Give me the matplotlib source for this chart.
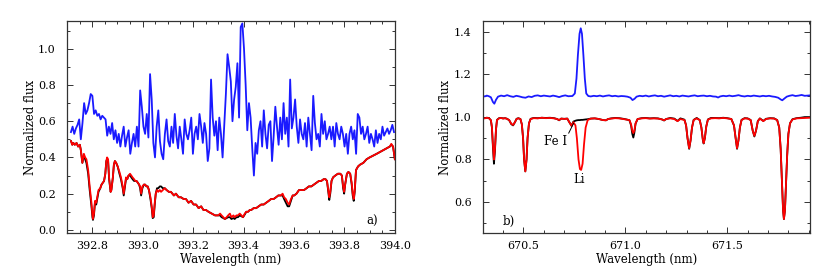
import numpy as np
import matplotlib
matplotlib.use("Agg")
import matplotlib.pyplot as plt
from matplotlib.ticker import MultipleLocator

# ---- panel a) : Ca II K region ----
# blue spectrum, regularly sampled
blue_a_start, blue_a_end = 392.7157, 393.9967
blue_a_flux = [
    0.54, 0.57, 0.53, 0.56, 0.58, 0.61, 0.50, 0.59, 0.70, 0.64,
    0.66, 0.70, 0.75, 0.74, 0.64, 0.66, 0.63, 0.64, 0.61, 0.63,
    0.62, 0.61, 0.52, 0.57, 0.53, 0.59, 0.50, 0.55, 0.48, 0.53,
    0.46, 0.52, 0.57, 0.46, 0.51, 0.55, 0.42, 0.48, 0.53, 0.46,
    0.57, 0.46, 0.77, 0.68, 0.57, 0.53, 0.64, 0.51, 0.86, 0.72,
    0.48, 0.40, 0.57, 0.66, 0.49, 0.42, 0.39, 0.53, 0.61, 0.49,
    0.46, 0.57, 0.48, 0.64, 0.52, 0.45, 0.57, 0.50, 0.42, 0.61,
    0.53, 0.50, 0.55, 0.62, 0.42, 0.53, 0.57, 0.50, 0.64, 0.57,
    0.48, 0.59, 0.53, 0.38, 0.45, 0.83, 0.62, 0.52, 0.60, 0.44,
    0.62, 0.53, 0.40, 0.57, 0.75, 0.97, 0.90, 0.82, 0.60, 0.72,
    0.79, 0.92, 0.62, 1.12, 1.14, 1.00, 0.80, 0.55, 0.70, 0.62,
    0.45, 0.30, 0.48, 0.42, 0.55, 0.60, 0.46, 0.66, 0.53, 0.45,
    0.58, 0.60, 0.38, 0.52, 0.68, 0.57, 0.47, 0.62, 0.50, 0.70,
    0.53, 0.62, 0.46, 0.83, 0.56, 0.62, 0.72, 0.57, 0.48, 0.61,
    0.53, 0.50, 0.59, 0.46, 0.62, 0.53, 0.44, 0.74, 0.59, 0.50,
    0.53, 0.46, 0.64, 0.53, 0.60, 0.50, 0.53, 0.57, 0.50, 0.57,
    0.46, 0.59, 0.53, 0.50, 0.57, 0.53, 0.46, 0.53, 0.42, 0.53,
    0.57, 0.50, 0.55, 0.42, 0.64, 0.62, 0.53, 0.57, 0.50, 0.53,
    0.57, 0.48, 0.53, 0.50, 0.46, 0.55, 0.48, 0.53, 0.50, 0.57,
    0.52, 0.54, 0.56, 0.53, 0.55, 0.58, 0.54,
]

# red and black spectra share one wavelength list
red_a_wl = [
    392.716, 392.721, 392.725, 392.731, 392.738, 392.744, 392.751, 392.755, 392.761, 392.767,
    392.772, 392.777, 392.784, 392.790, 392.797, 392.801, 392.803, 392.807, 392.811, 392.816,
    392.820, 392.825, 392.832, 392.837, 392.842, 392.847, 392.852, 392.856, 392.859, 392.863,
    392.867, 392.873, 392.876, 392.882, 392.886, 392.890, 392.895, 392.901, 392.908, 392.914,
    392.921, 392.925, 392.929, 392.934, 392.939, 392.944, 392.950, 392.955, 392.960, 392.966,
    392.971, 392.976, 392.981, 392.986, 392.990, 392.994, 392.999, 393.005, 393.010, 393.015,
    393.020, 393.025, 393.031, 393.036, 393.040, 393.044, 393.048, 393.052, 393.057, 393.062,
    393.068, 393.073, 393.080, 393.088, 393.095, 393.104, 393.112, 393.124, 393.132, 393.143,
    393.152, 393.163, 393.172, 393.182, 393.192, 393.202, 393.212, 393.222, 393.232, 393.241,
    393.251, 393.261, 393.274, 393.287, 393.300, 393.307, 393.313, 393.320, 393.326, 393.333,
    393.339, 393.346, 393.352, 393.360, 393.365, 393.372, 393.378, 393.385, 393.392, 393.398,
    393.405, 393.411, 393.418, 393.425, 393.431, 393.440, 393.450, 393.460, 393.470, 393.480,
    393.490, 393.500, 393.509, 393.519, 393.529, 393.538, 393.548, 393.555, 393.561, 393.568,
    393.575, 393.581, 393.588, 393.595, 393.601, 393.610, 393.620, 393.630, 393.640, 393.650,
    393.659, 393.669, 393.679, 393.689, 393.699, 393.708, 393.718, 393.725, 393.731, 393.736,
    393.740, 393.744, 393.749, 393.755, 393.764, 393.774, 393.784, 393.790, 393.795, 393.799,
    393.803, 393.810, 393.816, 393.823, 393.829, 393.833, 393.837, 393.841, 393.846, 393.854,
    393.862, 393.875, 393.888, 393.900, 393.914, 393.928, 393.941, 393.954, 393.967, 393.980,
    393.986, 393.993, 394.000,
]
red_a_flux = [
    0.49, 0.47, 0.48, 0.47, 0.48, 0.46, 0.47, 0.44, 0.37, 0.42,
    0.40, 0.39, 0.33, 0.24, 0.15, 0.08, 0.06, 0.09, 0.16, 0.15,
    0.18, 0.22, 0.23, 0.25, 0.26, 0.27, 0.31, 0.38, 0.40, 0.39,
    0.29, 0.21, 0.22, 0.29, 0.36, 0.38, 0.37, 0.35, 0.32, 0.29,
    0.24, 0.20, 0.24, 0.29, 0.28, 0.30, 0.31, 0.30, 0.29, 0.28,
    0.27, 0.27, 0.26, 0.25, 0.24, 0.20, 0.24, 0.25, 0.25, 0.24,
    0.24, 0.22, 0.18, 0.13, 0.07, 0.08, 0.15, 0.20, 0.22, 0.21,
    0.22, 0.21, 0.22, 0.23, 0.22, 0.21, 0.21, 0.19, 0.20, 0.18,
    0.18, 0.17, 0.17, 0.15, 0.16, 0.14, 0.14, 0.12, 0.13, 0.11,
    0.11, 0.10, 0.09, 0.08, 0.08, 0.09, 0.08, 0.07, 0.06, 0.07,
    0.08, 0.09, 0.07, 0.08, 0.07, 0.08, 0.08, 0.09, 0.08, 0.07,
    0.09, 0.10, 0.10, 0.11, 0.11, 0.12, 0.12, 0.13, 0.14, 0.14,
    0.15, 0.16, 0.17, 0.17, 0.18, 0.19, 0.19, 0.20, 0.18, 0.17,
    0.15, 0.14, 0.17, 0.19, 0.19, 0.20, 0.22, 0.22, 0.22, 0.23,
    0.24, 0.24, 0.25, 0.26, 0.27, 0.27, 0.28, 0.28, 0.27, 0.22,
    0.18, 0.21, 0.27, 0.29, 0.30, 0.31, 0.31, 0.30, 0.24, 0.21,
    0.25, 0.31, 0.32, 0.31, 0.26, 0.20, 0.17, 0.22, 0.33, 0.35,
    0.36, 0.37, 0.39, 0.40, 0.41, 0.42, 0.43, 0.44, 0.45, 0.46,
    0.475, 0.46, 0.39,
]
black_a_flux = [
    0.49, 0.47, 0.48, 0.47, 0.48, 0.46, 0.47, 0.44, 0.37, 0.41,
    0.39, 0.37, 0.31, 0.22, 0.13, 0.07, 0.055, 0.08, 0.15, 0.14,
    0.17, 0.21, 0.23, 0.25, 0.26, 0.27, 0.31, 0.38, 0.39, 0.38,
    0.28, 0.21, 0.22, 0.29, 0.36, 0.38, 0.37, 0.35, 0.31, 0.28,
    0.23, 0.19, 0.23, 0.28, 0.28, 0.30, 0.30, 0.29, 0.28, 0.27,
    0.27, 0.27, 0.26, 0.25, 0.23, 0.19, 0.23, 0.25, 0.25, 0.24,
    0.24, 0.22, 0.17, 0.12, 0.065, 0.07, 0.14, 0.20, 0.23, 0.23,
    0.24, 0.24, 0.23, 0.23, 0.22, 0.21, 0.21, 0.19, 0.20, 0.18,
    0.18, 0.17, 0.17, 0.15, 0.16, 0.14, 0.14, 0.12, 0.13, 0.11,
    0.11, 0.10, 0.09, 0.08, 0.08, 0.08, 0.07, 0.065, 0.06, 0.065,
    0.07, 0.07, 0.06, 0.065, 0.06, 0.07, 0.07, 0.08, 0.075, 0.07,
    0.085, 0.10, 0.10, 0.11, 0.11, 0.12, 0.12, 0.13, 0.14, 0.14,
    0.15, 0.16, 0.17, 0.17, 0.18, 0.19, 0.19, 0.19, 0.17, 0.15,
    0.13, 0.13, 0.16, 0.19, 0.19, 0.20, 0.22, 0.22, 0.22, 0.23,
    0.24, 0.24, 0.25, 0.26, 0.27, 0.27, 0.28, 0.28, 0.27, 0.21,
    0.165, 0.20, 0.27, 0.29, 0.30, 0.31, 0.31, 0.30, 0.23, 0.20,
    0.25, 0.31, 0.32, 0.31, 0.25, 0.19, 0.16, 0.21, 0.33, 0.35,
    0.36, 0.37, 0.39, 0.40, 0.41, 0.42, 0.43, 0.44, 0.45, 0.46,
    0.47, 0.46, 0.39,
]

# ---- panel b) : Li I 670.8 nm region ----
blue_b_wl = [
    670.300, 670.310, 670.320, 670.330, 670.340, 670.350, 670.357, 670.365, 670.375, 670.390,
    670.405, 670.420, 670.435, 670.450, 670.465, 670.480, 670.495, 670.510, 670.525, 670.540,
    670.555, 670.570, 670.585, 670.600, 670.615, 670.630, 670.645, 670.660, 670.675, 670.690,
    670.705, 670.720, 670.740, 670.752, 670.760, 670.767, 670.775, 670.781, 670.787, 670.794,
    670.801, 670.808, 670.818, 670.830, 670.845, 670.860, 670.875, 670.890, 670.905, 670.920,
    670.935, 670.950, 670.965, 670.980, 670.995, 671.010, 671.025, 671.035, 671.045, 671.055,
    671.070, 671.085, 671.100, 671.115, 671.130, 671.145, 671.160, 671.175, 671.190, 671.205,
    671.220, 671.235, 671.250, 671.265, 671.280, 671.295, 671.310, 671.325, 671.340, 671.355,
    671.370, 671.385, 671.400, 671.415, 671.430, 671.445, 671.455, 671.465, 671.480, 671.495,
    671.510, 671.525, 671.540, 671.555, 671.570, 671.585, 671.600, 671.615, 671.630, 671.645,
    671.660, 671.675, 671.690, 671.705, 671.720, 671.735, 671.750, 671.762, 671.770, 671.780,
    671.792, 671.805, 671.820, 671.835, 671.850, 671.865, 671.880, 671.895, 671.906,
]
blue_b_flux = [
    1.098, 1.096, 1.100, 1.097, 1.092, 1.070, 1.062, 1.080, 1.095, 1.100,
    1.097, 1.102, 1.097, 1.094, 1.099, 1.096, 1.092, 1.090, 1.096, 1.093,
    1.099, 1.101, 1.097, 1.100, 1.098, 1.096, 1.100, 1.097, 1.093, 1.098,
    1.101, 1.097, 1.098, 1.110, 1.180, 1.290, 1.390, 1.416, 1.390, 1.290,
    1.180, 1.110, 1.098, 1.096, 1.099, 1.097, 1.100, 1.096, 1.099, 1.101,
    1.097, 1.099, 1.096, 1.098, 1.097, 1.095, 1.090, 1.079, 1.085, 1.095,
    1.099, 1.097, 1.100, 1.096, 1.099, 1.101, 1.097, 1.099, 1.095, 1.098,
    1.101, 1.097, 1.099, 1.096, 1.100, 1.098, 1.096, 1.099, 1.101, 1.097,
    1.099, 1.100, 1.097, 1.099, 1.096, 1.095, 1.091, 1.096, 1.099, 1.097,
    1.100, 1.097, 1.099, 1.102, 1.098, 1.096, 1.099, 1.097, 1.100, 1.098,
    1.096, 1.099, 1.097, 1.099, 1.096, 1.094, 1.090, 1.082, 1.078, 1.086,
    1.095, 1.099, 1.102, 1.098, 1.100, 1.103, 1.099, 1.100, 1.101,
]

red_b_wl = [
    670.300, 670.310, 670.320, 670.330, 670.340, 670.345, 670.350, 670.355, 670.360, 670.365,
    670.370, 670.380, 670.390, 670.400, 670.410, 670.420, 670.430, 670.440, 670.449, 670.458,
    670.466, 670.475, 670.485, 670.492, 670.498, 670.503, 670.509, 670.515, 670.520, 670.527,
    670.535, 670.550, 670.570, 670.590, 670.610, 670.630, 670.650, 670.665, 670.675, 670.685,
    670.700, 670.715, 670.725, 670.736, 670.745, 670.755, 670.762, 670.770, 670.777, 670.783,
    670.790, 670.797, 670.805, 670.815, 670.830, 670.850, 670.870, 670.890, 670.905, 670.915,
    670.930, 670.950, 670.970, 670.990, 671.005, 671.020, 671.028, 671.034, 671.039, 671.044,
    671.050, 671.060, 671.080, 671.100, 671.120, 671.140, 671.160, 671.180, 671.190, 671.200,
    671.220, 671.240, 671.256, 671.270, 671.290, 671.298, 671.305, 671.313, 671.320, 671.327,
    671.335, 671.350, 671.365, 671.373, 671.380, 671.384, 671.390, 671.397, 671.405, 671.420,
    671.440, 671.460, 671.480, 671.500, 671.520, 671.533, 671.541, 671.548, 671.555, 671.562,
    671.570, 671.585, 671.600, 671.615, 671.625, 671.633, 671.641, 671.650, 671.660, 671.670,
    671.677, 671.690, 671.710, 671.730, 671.745, 671.755, 671.762, 671.768, 671.774, 671.778,
    671.783, 671.788, 671.794, 671.800, 671.808, 671.820, 671.840, 671.860, 671.880, 671.906,
]
red_b_flux = [
    0.995, 0.993, 0.996, 0.994, 0.985, 0.955, 0.87, 0.80, 0.85, 0.94,
    0.985, 0.993, 0.995, 0.992, 0.994, 0.990, 0.985, 0.968, 0.962, 0.975,
    0.990, 0.993, 0.990, 0.965, 0.90, 0.80, 0.744, 0.80, 0.90, 0.97,
    0.990, 0.994, 0.993, 0.996, 0.994, 0.995, 0.993, 0.990, 0.985, 0.992,
    0.990, 0.992, 0.975, 0.958, 0.975, 0.960, 0.90, 0.80, 0.755, 0.751,
    0.78, 0.87, 0.95, 0.985, 0.992, 0.993, 0.990, 0.985, 0.984, 0.990,
    0.992, 0.994, 0.993, 0.990, 0.988, 0.985, 0.965, 0.935, 0.924, 0.935,
    0.970, 0.990, 0.993, 0.994, 0.992, 0.993, 0.992, 0.988, 0.984, 0.990,
    0.993, 0.990, 0.980, 0.990, 0.985, 0.96, 0.90, 0.853, 0.89, 0.95,
    0.985, 0.993, 0.985, 0.95, 0.895, 0.877, 0.90, 0.955, 0.987, 0.993,
    0.994, 0.993, 0.995, 0.993, 0.990, 0.96, 0.90, 0.853, 0.89, 0.95,
    0.985, 0.993, 0.992, 0.985, 0.935, 0.911, 0.935, 0.980, 0.992, 0.985,
    0.980, 0.990, 0.993, 0.992, 0.985, 0.95, 0.85, 0.70, 0.56, 0.52,
    0.56, 0.68, 0.82, 0.92, 0.970, 0.988, 0.993, 0.994, 0.995, 0.996,
]
black_b_flux = [
    0.996, 0.994, 0.996, 0.995, 0.984, 0.950, 0.86, 0.78, 0.84, 0.94,
    0.986, 0.994, 0.995, 0.993, 0.994, 0.991, 0.984, 0.966, 0.960, 0.975,
    0.991, 0.994, 0.990, 0.965, 0.90, 0.80, 0.744, 0.80, 0.90, 0.97,
    0.991, 0.995, 0.994, 0.996, 0.995, 0.996, 0.994, 0.990, 0.984, 0.992,
    0.991, 0.992, 0.975, 0.958, 0.978, 0.982, 0.984, 0.985, 0.985, 0.986,
    0.986, 0.987, 0.988, 0.989, 0.992, 0.993, 0.990, 0.985, 0.984, 0.990,
    0.993, 0.995, 0.994, 0.991, 0.988, 0.984, 0.960, 0.920, 0.903, 0.925,
    0.968, 0.990, 0.994, 0.995, 0.993, 0.994, 0.993, 0.988, 0.983, 0.990,
    0.995, 0.992, 0.981, 0.993, 0.987, 0.96, 0.90, 0.850, 0.89, 0.95,
    0.986, 0.995, 0.985, 0.95, 0.893, 0.875, 0.90, 0.955, 0.988, 0.995,
    0.995, 0.994, 0.996, 0.994, 0.990, 0.96, 0.90, 0.850, 0.89, 0.95,
    0.986, 0.994, 0.993, 0.985, 0.935, 0.908, 0.935, 0.980, 0.993, 0.986,
    0.981, 0.991, 0.994, 0.993, 0.985, 0.95, 0.85, 0.70, 0.56, 0.52,
    0.56, 0.68, 0.82, 0.92, 0.970, 0.989, 0.994, 0.996, 0.999, 0.999,
]

# Style
font = "DejaVu Serif"
fs_tick = 8
fs_label = 8.5
lw = 1.3
col_blue = "#1a1aff"
col_red = "#ff0000"


def style_axes(ax, xmaj, xmin, ymaj, ymin):
    ax.xaxis.set_major_locator(MultipleLocator(xmaj))
    ax.xaxis.set_minor_locator(MultipleLocator(xmin))
    ax.yaxis.set_major_locator(MultipleLocator(ymaj))
    ax.yaxis.set_minor_locator(MultipleLocator(ymin))
    ax.tick_params(which="both", direction="in", top=True, right=True,
                   labelsize=fs_tick, width=0.7, color="#333333")
    ax.tick_params(which="major", length=4)
    ax.tick_params(which="minor", length=2)
    ax.tick_params(axis="x", pad=6)
    ax.tick_params(axis="y", pad=8)
    for s in ax.spines.values():
        s.set_linewidth(0.9)
        s.set_color("#333333")
    ax.set_xlabel("Wavelength (nm)", fontsize=fs_label, labelpad=1)
    ax.set_ylabel("Normalized flux", fontsize=fs_label, labelpad=1)
    fmt = plt.FuncFormatter(lambda v, p: f"{v:.1f}")
    ax.xaxis.set_major_formatter(fmt)
    ax.yaxis.set_major_formatter(fmt)


def main():
    plt.rcParams["font.family"] = [font, "DejaVu Sans"]
    fig = plt.figure(figsize=(8.3, 2.77), dpi=100)

    # panel a
    ax1 = fig.add_axes([0.0807, 0.159, 0.395, 0.765])
    blue_a_wl = np.linspace(blue_a_start, blue_a_end, len(blue_a_flux))
    ax1.plot(red_a_wl, black_a_flux, color="black", lw=lw)
    ax1.plot(red_a_wl, red_a_flux, color=col_red, lw=lw)
    ax1.plot(blue_a_wl, blue_a_flux, color=col_blue, lw=lw)
    ax1.set_xlim(392.7, 394.0)
    ax1.set_ylim(-0.017, 1.153)
    style_axes(ax1, 0.2, 0.05, 0.2, 0.1)
    ax1.text(393.91, 0.046, "a)", fontsize=fs_label, ha="center", va="center")

    # panel b
    ax2 = fig.add_axes([0.5816, 0.159, 0.3943, 0.765])
    ax2.plot(red_b_wl, black_b_flux, color="black", lw=lw)
    ax2.plot(red_b_wl, red_b_flux, color=col_red, lw=lw)
    ax2.plot(blue_b_wl, blue_b_flux, color=col_blue, lw=lw)
    ax2.set_xlim(670.3, 671.906)
    ax2.set_ylim(0.455, 1.45)
    style_axes(ax2, 0.5, 0.1, 0.2, 0.1)
    ax2.text(670.43, 0.509, "b)", fontsize=fs_label, ha="center", va="center")
    ax2.text(670.658, 0.884, "Fe I", fontsize=fs_label, ha="center", va="center")
    ax2.plot([670.722, 670.746], [0.924, 0.970], color="black", lw=0.7)
    ax2.text(670.775, 0.705, "Li", fontsize=fs_label, ha="center", va="center")

    fig.savefig("out.png", dpi=100)


if __name__ == "__main__":
    main()
